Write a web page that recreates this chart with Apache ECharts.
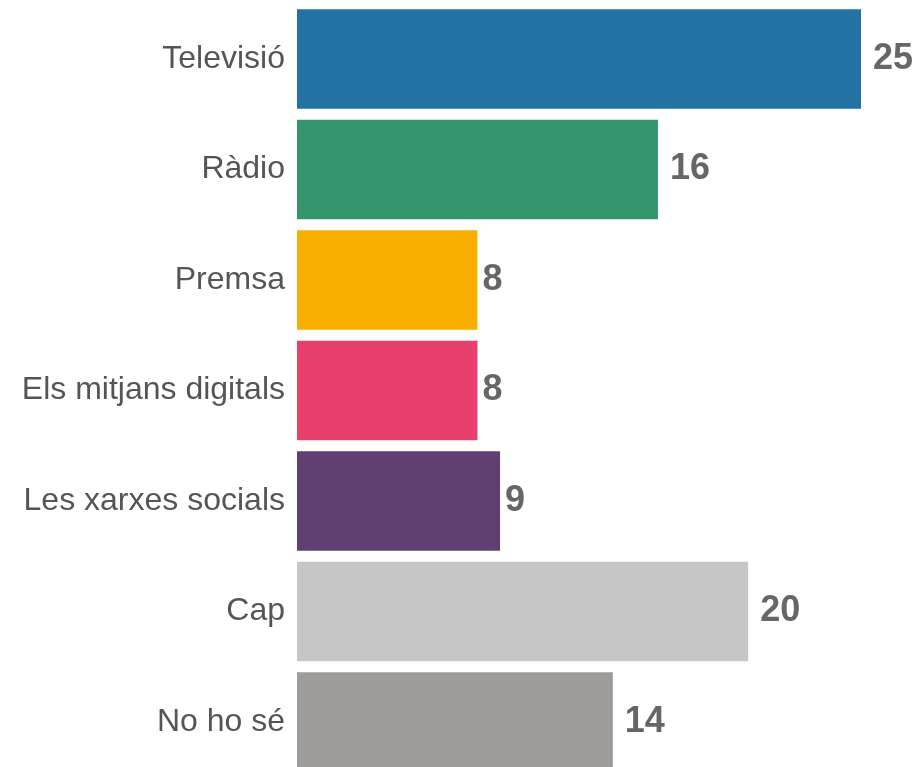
<!DOCTYPE html>
<html><head><meta charset="utf-8">
<script src="https://cdn.jsdelivr.net/npm/echarts@6/dist/echarts.min.js"></script>
<style>html,body{margin:0;padding:0;background:#fff}#c{width:920px;height:767px}</style>
</head><body><div id="c"></div>
<script>
const categories = ['Televisió','Ràdio','Premsa','Els mitjans digitals','Les xarxes socials','Cap','No ho sé'];
const values = [25,16,8,8,9,20,14];
const colors = ['#2272a3','#34946c','#f9af00','#e8406d','#623f72','#c6c6c6','#9d9c9a'];

const chart = echarts.init(document.getElementById('c'), null, {renderer:'canvas'});
chart.setOption({
  animation:false,
  grid:{left:297,width:564,top:3.75,height:773.5,containLabel:false,outerBoundsMode:'none'},
  xAxis:{type:'value',min:0,max:25,show:false},
  yAxis:{type:'category',data:categories,inverse:true,
    axisLine:{show:false},axisTick:{show:false},
    axisLabel:{margin:12,fontSize:32,color:'#555555',padding:[4,0,0,0],
      fontFamily:'Liberation Sans, Arial, sans-serif'}},
  series:[{type:'bar',barWidth:99.4,
    data:values.map((v,i)=>({value:v,itemStyle:{color:colors[i]},
      label:{distance:String(v).length>1?12:5}})),
    label:{show:true,position:'right',fontSize:36,fontWeight:'bold',color:'#666666',
      fontFamily:'Liberation Sans, Arial, sans-serif'}}]
});
</script></body></html>
